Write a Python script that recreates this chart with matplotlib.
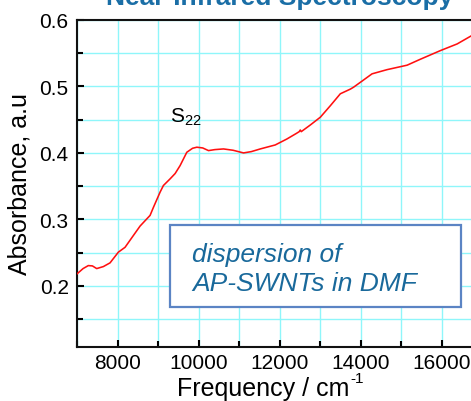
import matplotlib
matplotlib.use("Agg")
import matplotlib.pyplot as plt
from matplotlib.patches import Rectangle
from matplotlib.ticker import MultipleLocator

plt.rcParams['font.family'] = ['Liberation Sans', 'DejaVu Sans']

# Data
freq = [7000, 7150, 7279, 7380, 7486, 7650, 7815, 8020, 8185, 8370, 8556, 8802, 8884,
        9049, 9131, 9296, 9420, 9543, 9708, 9850, 9955, 10100, 10243, 10400, 10613, 10850,
        11107, 11300, 11519, 11889, 12177, 12400, 12480, 12506, 12530, 12753, 13000,
        13247, 13494, 13741, 13823, 14050, 14276, 14646, 15140, 15469, 15963, 16375,
        16704, 16900]
absorb = [0.218, 0.226, 0.2305, 0.230, 0.226, 0.229, 0.2346, 0.2507, 0.258, 0.274,
          0.290, 0.306, 0.318, 0.341, 0.351, 0.361, 0.369, 0.381, 0.401, 0.407, 0.4086,
          0.4075, 0.4035, 0.405, 0.406, 0.404, 0.400, 0.402, 0.406, 0.412, 0.421,
          0.429, 0.432, 0.4345, 0.432, 0.442, 0.4537, 0.471, 0.489, 0.496, 0.499,
          0.509, 0.519, 0.5253, 0.532, 0.541, 0.554, 0.564, 0.5755, 0.582]

title = "Near-Infrared Spectroscopy"
xlabel_main = "Frequency / cm"
xlabel_sup = "-1"
ylabel = "Absorbance, a.u"
peak_label = "S$_{\\mathregular{22}}$"
box_lines = ["dispersion of", "AP-SWNTs in DMF"]

W, H = 471, 402
fig = plt.figure(figsize=(W / 100, H / 100), dpi=100)

left, right, top, bottom = 77, 482.5, 21, 348
ax = fig.add_axes([left / W, 1 - bottom / H, (right - left) / W, (bottom - top) / H])

ax.plot(freq, absorb, color='#ff1010', lw=1.15, zorder=3)

ax.set_xlim(7000, 17000)
ax.set_ylim(0.108, 0.6)
ax.xaxis.set_major_locator(MultipleLocator(2000))
ax.xaxis.set_minor_locator(MultipleLocator(1000))
ax.yaxis.set_minor_locator(MultipleLocator(0.05))
ax.set_yticks([0.2, 0.3, 0.4, 0.5, 0.6])
ax.yaxis.set_major_formatter(matplotlib.ticker.FuncFormatter(lambda v, p: f"{v:.1f}"))

ax.grid(True, which='both', color='#8ff6fa', lw=1.0, zorder=0)
ax.set_axisbelow(True)

ax.tick_params(which='both', direction='in', top=False, right=False, labelsize=15, width=1.5)
ax.tick_params(which='major', length=5)
ax.tick_params(which='minor', length=4)
ax.tick_params(axis='x', pad=4)
ax.tick_params(axis='y', pad=6)
for s in ax.spines.values():
    s.set_linewidth(1.5)
    s.set_color('#111111')

xl = fig.text(177 / W, 1 - 396 / H, xlabel_main, ha='left', va='baseline', fontsize=18)
fig.canvas.draw()
bb = xl.get_window_extent()
fig.text((bb.x1 + 1) / W, (H - 383) / H, xlabel_sup, ha='left', va='baseline', fontsize=11)

fig.text(20 / W, 1 - 184 / H, ylabel, ha='center', va='center', rotation=90, fontsize=18)

fig.text(280 / W, 1 - 5 / H, title, ha='center', va='baseline',
         fontsize=19, fontweight='bold', color='#1a6ea6')

ax.text(9296, 0.448, peak_label, ha='left', va='baseline', fontsize=15)

# Annotation box
bx0 = (170 - left) / (right - left)
bx1 = (461 - left) / (right - left)
by0 = (bottom - 308) / (bottom - top)
by1 = (bottom - 226) / (bottom - top)
ax.add_patch(Rectangle((bx0, by0), bx1 - bx0, by1 - by0, transform=ax.transAxes,
                       facecolor='white', edgecolor='#5b84c4', lw=1.6, zorder=4))
tx = (192 - left) / (right - left)
for line, ypx in zip(box_lines, [262, 291]):
    ax.text(tx, (bottom - ypx) / (bottom - top), line, transform=ax.transAxes,
            ha='left', va='baseline', fontsize=19, style='italic', color='#19699b', zorder=5)

fig.savefig('out.png', dpi=100)
